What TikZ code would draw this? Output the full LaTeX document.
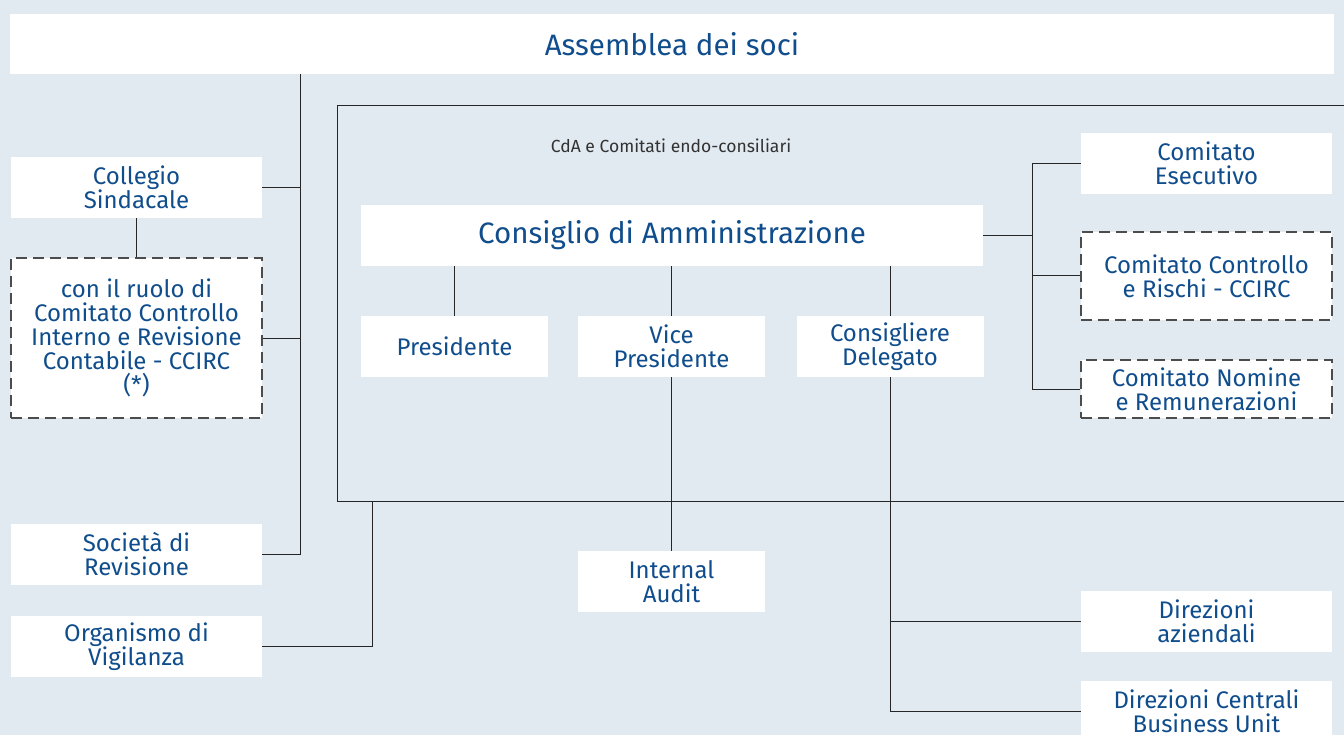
\documentclass[tikz,border=0pt]{standalone}
\usepackage{fontspec}
\setmainfont{Fira Sans}
\usepackage{xcolor}
\usetikzlibrary{positioning}

\definecolor{bgblue}{RGB}{225,233,241}
\definecolor{txtblue}{RGB}{16,77,140}
\definecolor{lblgray}{RGB}{50,50,50}

\begin{document}
\begin{tikzpicture}[x=1pt,y=-1pt,
  orgbox/.style={fill=white, text=txtblue, align=center, inner sep=0pt,
    font=\fontsize{24}{24}\selectfont},
  sidebox/.style={orgbox, minimum width=251pt, minimum height=61pt},
  midbox/.style={orgbox, minimum width=187pt, minimum height=61pt},
  dashbox/.style={draw=black!70, line width=1.1pt, dash pattern=on 11pt off 6pt},
  link/.style={draw=black!85, line width=1pt}]

  % sfondo
  \fill[bgblue] (0,0) rectangle (1344,735);
  \useasboundingbox (0,0) rectangle (1344,735);

  % assemblea
  \node[orgbox, minimum width=1324pt, minimum height=60pt,
    font=\fontsize{29.5}{30}\selectfont] (assemblea) at (672,44) {Assemblea dei soci};

  %---- organi di controllo (sinistra) ----
  \node[sidebox] (collegio) at (136.5,187.5) {Collegio\\Sindacale};
  \node[sidebox, dashbox, minimum height=160pt] (ccirc) at (136.5,338)
    {con il ruolo di\\Comitato Controllo\\Interno e Revisione\\Contabile - CCIRC\\(*)};
  \node[sidebox] (revisione) at (136.5,554.5) {Società di\\Revisione};
  \node[sidebox] (odv) at (136.5,646.5) {Organismo di\\Vigilanza};

  % cornice CdA
  \coordinate (cdaNW) at (337,106);
  \coordinate (cdaSW) at (337,501);
  \draw[link] (1344,106) -- (cdaNW) -- (cdaSW) -- (1344,501);
  \node[text=lblgray, font=\fontsize{17.5}{18}\selectfont] (cdalabel) at (671,146)
    {CdA e Comitati endo-consiliari};

  %---- consiglio ----
  \node[orgbox, minimum width=622pt, minimum height=61pt,
    font=\fontsize{29.5}{30}\selectfont] (cda) at (672,235.5) {Consiglio di Amministrazione};
  \node[midbox] (pres) at (454.5,346.5) {Presidente};
  \node[midbox] (vice) at (671.5,346.5) {Vice\\Presidente};
  \node[midbox] (delegato) at (890,346.5) {Consigliere\\Delegato};
  \node[midbox] (audit) at (671.5,581.5) {Internal\\Audit};

  %---- comitati (destra) ----
  \node[sidebox] (esecutivo) at (1206.5,163.5) {Comitato\\Esecutivo};
  \node[sidebox, dashbox, minimum height=88pt] (ccr) at (1206.5,276)
    {Comitato Controllo\\e Rischi - CCIRC};
  \node[sidebox, dashbox, minimum height=58pt] (nomine) at (1206.5,389)
    {Comitato Nomine\\e Remunerazioni};

  \node[sidebox] (diraz) at (1206.5,621.5) {Direzioni\\aziendali};
  \node[sidebox] (dircen) at (1206.5,711.5) {Direzioni Centrali\\Business Unit};

  % collegamenti sinistra
  \coordinate (trunkL) at (300,74);
  \draw[link] (assemblea.south -| trunkL) -- (trunkL |- revisione.east) -- (revisione.east);
  \draw[link] (collegio.east) -- (collegio.east -| trunkL);
  \draw[link] (ccirc.east) -- (ccirc.east -| trunkL);
  \draw[link] (collegio.south) -- (ccirc.north);
  \coordinate (odvUp) at (372,501);
  \draw[link] (odv.east) -- (odv.east -| odvUp) -- (odvUp);

  % collegamenti consiglio
  \draw[link] (cda.south -| pres.north) -- (pres.north);
  \draw[link] (cda.south -| vice.north) -- (vice.north);
  \draw[link] (cda.south -| delegato.north) -- (delegato.north);
  \draw[link] (vice.south) -- (audit.north);
  \draw[link] (delegato.south) -- (delegato.south |- dircen.west) -- (dircen.west);
  \draw[link] (diraz.west) -- (diraz.west -| delegato.south);

  % collegamenti comitati
  \coordinate (trunkR) at (1032,236);
  \draw[link] (cda.east) -- (cda.east -| trunkR);
  \draw[link] (esecutivo.west) -- (esecutivo.west -| trunkR) -- (trunkR |- nomine.west) -- (nomine.west);
  \draw[link] (ccr.west) -- (ccr.west -| trunkR);

\end{tikzpicture}
\end{document}
